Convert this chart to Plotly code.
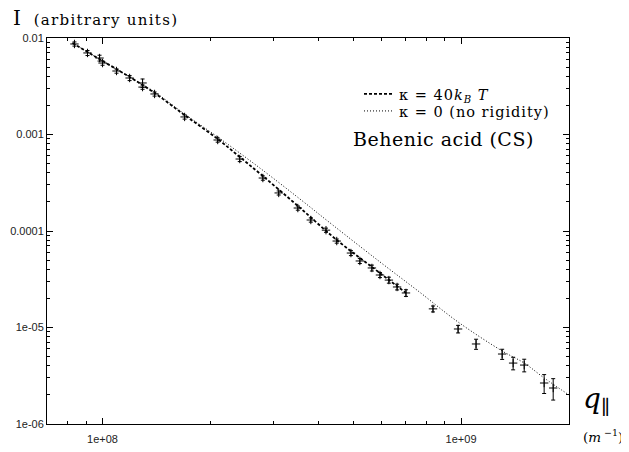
import plotly.graph_objects as go

# measured data: q (m^-1), intensity, error
q_data = [8.35e7, 9.08e7, 9.81e7, 1.0e8, 1.094e8, 1.19e8, 1.293e8, 1.293e8, 1.397e8,
          1.694e8, 2.095e8, 2.414e8, 2.80e8, 3.10e8, 3.505e8, 3.81e8, 4.20e8, 4.50e8,
          4.93e8, 5.22e8, 5.64e8, 5.94e8, 6.29e8, 6.63e8, 7.02e8, 8.35e8, 9.81e8,
          1.101e9, 1.302e9, 1.397e9, 1.50e9, 1.705e9, 1.807e9]
I_data = [8.67e-3, 7.0e-3, 6.2e-3, 5.5e-3, 4.55e-3, 3.85e-3, 3.42e-3, 3.1e-3, 2.63e-3,
          1.52e-3, 8.77e-4, 5.57e-4, 3.54e-4, 2.48e-4, 1.73e-4, 1.30e-4, 1.02e-4, 7.87e-5,
          5.91e-5, 4.89e-5, 4.14e-5, 3.50e-5, 3.10e-5, 2.63e-5, 2.28e-5, 1.56e-5, 9.65e-6,
          6.75e-6, 5.31e-6, 4.28e-6, 4.08e-6, 2.66e-6, 2.36e-6]
I_err = [4.3e-4, 4.2e-4, 4.3e-4, 2.8e-4, 2.3e-4, 2.3e-4, 3.4e-4, 1.6e-4, 1.3e-4,
         7.6e-5, 4.4e-5, 3.3e-5, 1.8e-5, 1.2e-5, 8.7e-6, 6.5e-6, 5.1e-6, 3.9e-6,
         3.5e-6, 2.9e-6, 2.9e-6, 2.1e-6, 2.2e-6, 1.8e-6, 1.8e-6, 1.1e-6, 8.7e-7,
         8.1e-7, 6.4e-7, 6.4e-7, 6.1e-7, 5.9e-7, 5.9e-7]

# model kappa = 40 kB T
q_k40 = [8.25e7, 1.0e8, 1.19e8, 1.397e8, 1.694e8, 2.095e8, 2.414e8, 2.80e8,
         3.505e8, 4.50e8, 5.64e8, 7.02e8]
I_k40 = [8.87e-3, 5.78e-3, 3.95e-3, 2.69e-3, 1.59e-3, 8.98e-4, 5.85e-4, 3.71e-4,
         1.82e-4, 8.07e-5, 4.24e-5, 2.28e-5]

# model kappa = 0
q_k0 = [8.25e7, 1.0e8, 1.19e8, 1.397e8, 1.694e8, 2.095e8, 2.745e8, 3.55e8, 4.39e8,
        5.94e8, 7.59e8, 9.81e8, 1.302e9, 1.50e9, 1.705e9, 2.0e9]
I_k0 = [8.87e-3, 5.78e-3, 3.95e-3, 2.76e-3, 1.63e-3, 9.42e-4, 4.50e-4, 2.15e-4, 1.15e-4,
        4.78e-5, 2.39e-5, 1.14e-5, 5.71e-6, 4.28e-6, 3.00e-6, 2.00e-6]

x_major = [1e8, 1e9]
x_major_text = ["1e+08", "1e+09"]
x_minor = [7e7, 8e7, 9e7] + [k * 1e8 for k in range(2, 10)] + [2e9]
y_major = [1e-6, 1e-5, 1e-4, 1e-3, 1e-2]
y_major_text = ["1e-06", "1e-05", "0.0001", "0.001", "0.01"]
y_minor = [k * 10.0 ** e for e in range(-6, -2) for k in range(2, 10)]

SERIF = "DejaVu Serif"
SANS = "Liberation Sans"

OFF = 8  # page body margin of the browser
W, H = 629 - OFF, 452 - OFF
L, R, T, B = 47 - OFF, 60, 38 - OFF, 28
PW, PH = W - L - R, H - T - B


def px(xp):  # screen pixel -> paper x
    return (xp - OFF - L) / PW


def py(yp):  # screen pixel -> paper y
    return (H - B - (yp - OFF)) / PH


SP = "<span style='letter-spacing:1px'>{}</span>"

fig = go.Figure()
fig.add_trace(go.Scatter(
    x=q_k40, y=I_k40, mode="lines",
    name=SP.format("κ\u00a0=\u00a040<i>k<sub>B</sub>\u00a0T</i>"), legend="legend",
    line=dict(color="black", width=1.8, dash="3px,2px", shape="spline"),
))
fig.add_trace(go.Scatter(
    x=q_k0, y=I_k0, mode="lines",
    name=SP.format("κ\u00a0=\u00a00\u00a0(no\u00a0rigidity)"), legend="legend2",
    line=dict(color="black", width=1, dash="1px,2px", shape="spline"),
))
fig.add_trace(go.Scatter(
    x=q_data, y=I_data, mode="markers", showlegend=False,
    marker=dict(symbol="cross-thin", size=6, color="black",
                line=dict(width=1, color="black")),
    error_y=dict(type="data", array=I_err, visible=True, color="black",
                 thickness=1, width=2),
))

axis_common = dict(
    type="log", showgrid=False, zeroline=False, showline=True, automargin=False,
    linecolor="black", linewidth=1, mirror="allticks",
    ticks="inside", ticklen=6, tickcolor="black", tickwidth=1,
    tickfont=dict(family=SANS, size=11, color="#222"),
)
fig.update_xaxes(
    **axis_common, range=[7.8451, 9.30103], ticklabelstandoff=5,
    tickmode="array", tickvals=x_major, ticktext=x_major_text,
    minor=dict(tickmode="array", tickvals=x_minor, ticks="inside", ticklen=3,
               tickcolor="black"),
)
fig.update_yaxes(
    **axis_common, range=[-6, -2],
    tickmode="array", tickvals=y_major, ticktext=y_major_text,
    minor=dict(tickmode="array", tickvals=y_minor, ticks="inside", ticklen=3,
               tickcolor="black"),
)

leg = dict(xanchor="left", yanchor="middle", bgcolor="rgba(0,0,0,0)", borderwidth=0,
           font=dict(family=SERIF, size=14.5, color="black"), itemwidth=30)

fig.update_layout(
    width=W, height=H,
    margin=dict(l=L, r=R, t=T, b=B),
    paper_bgcolor="white", plot_bgcolor="white",
    showlegend=True,
    legend=dict(leg, x=px(359), y=py(94)),
    legend2=dict(leg, x=px(359), y=py(111)),
    annotations=[
        dict(text="I\u00a0\u00a0<span style='font-size:15px;letter-spacing:1.3px'>(arbitrary units)</span>",
             x=px(11), y=py(18), xref="paper", yref="paper", showarrow=False,
             xanchor="left", yanchor="middle",
             font=dict(family=SERIF, size=20, color="black")),
        dict(text="<span style='letter-spacing:0.5px'>Behenic acid (CS)</span>",
             x=px(443), y=py(139), xref="paper", yref="paper",
             showarrow=False, xanchor="center", yanchor="middle",
             font=dict(family=SERIF, size=19, color="black")),
        dict(text="<i>q</i><sub>∥</sub>", x=px(581), y=py(400), xref="paper", yref="paper",
             showarrow=False, xanchor="left", yanchor="middle",
             font=dict(family=SERIF, size=28, color="black")),
        dict(text="(<i>m</i><sup> −1</sup>)", x=px(581), y=py(436), xref="paper", yref="paper",
             showarrow=False, xanchor="left", yanchor="middle",
             font=dict(family=SERIF, size=13.5, color="black")),
    ],
)

fig.write_html("out.html")
